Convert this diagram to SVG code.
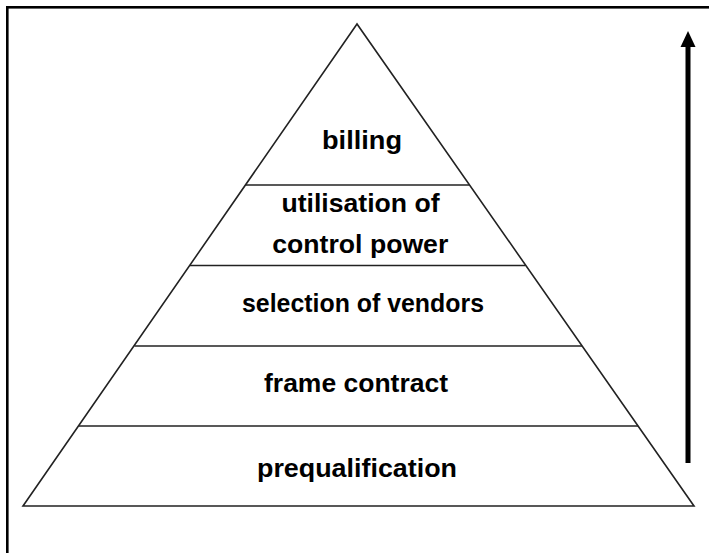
<svg xmlns="http://www.w3.org/2000/svg" width="709" height="553" viewBox="0 0 709 553">
<style>
.lbl{font-family:"Liberation Sans",Arial,sans-serif;font-weight:bold;font-size:25px;fill:#000;text-anchor:middle}
.div{stroke:#222;stroke-width:1.6;fill:none}
.tri{stroke:#222;stroke-width:1.6;fill:#fff;stroke-linejoin:miter}
</style>
<rect x="0" y="0" width="709" height="553" fill="#fff"/>
<rect x="7.3" y="7.3" width="720" height="560" fill="none" stroke="#000" stroke-width="2.6"/>
<g id="pyramid">
<polygon class="tri" points="357,24 23,506 694,506"/>
</g>
<g id="dividers">
<line class="div" x1="245.6" y1="185" x2="469.4" y2="185"/>
<line class="div" x1="190" y1="265.5" x2="525.3" y2="265.5"/>
<line class="div" x1="134.4" y1="346" x2="582" y2="346"/>
<line class="div" x1="79" y1="426" x2="638" y2="426"/>
</g>
<g id="billing"><text class="lbl" x="362" y="149" textLength="80" lengthAdjust="spacingAndGlyphs">billing</text></g>
<g id="utilisation"><text class="lbl" x="360.5" y="212" textLength="158" lengthAdjust="spacingAndGlyphs">utilisation of</text><text class="lbl" x="360.3" y="253" textLength="176" lengthAdjust="spacingAndGlyphs">control power</text></g>
<g id="selection"><text class="lbl" x="363" y="312" textLength="242" lengthAdjust="spacingAndGlyphs">selection of vendors</text></g>
<g id="frame"><text class="lbl" x="356" y="392" textLength="184" lengthAdjust="spacingAndGlyphs">frame contract</text></g>
<g id="prequalification"><text class="lbl" x="357" y="477" textLength="200" lengthAdjust="spacingAndGlyphs">prequalification</text></g>
<g id="arrow">
<line x1="688" y1="463" x2="688" y2="45" stroke="#000" stroke-width="5"/>
<polygon points="688,31 680.5,47 695.5,47" fill="#000"/>
</g>
</svg>
